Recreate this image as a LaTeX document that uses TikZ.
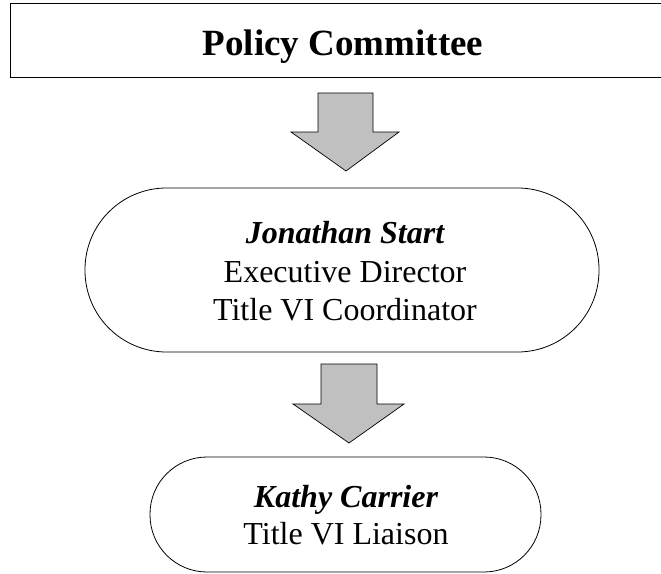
\documentclass[tikz,border=0pt]{standalone}
\usepackage{fontspec}
\setmainfont{Liberation Serif}
\begin{document}
\begin{tikzpicture}[x=1pt,y=-1pt,
  outline/.style={draw=black, line width=0.8pt},
  stad/.style={outline, fill=white, rectangle, inner sep=0pt},
  txt/.style={anchor=base, inner sep=0pt, font=\fontsize{32}{37}\selectfont},
  blockarrow/.style={draw=black, line width=0.7pt, fill=arrowgray, line join=miter}]
\definecolor{arrowgray}{HTML}{C0C0C0}
\useasboundingbox (0,0) rectangle (661,573);
\fill[white] (0,0) rectangle (661,573);
% Policy Committee box (its right side lies beyond the picture)
\begin{scope}
\clip (0,0) rectangle (661,573);
\node[outline, line width=1pt, rectangle, minimum width=690pt, minimum height=74pt, anchor=north west, inner sep=0pt] (pc) at (10,3) {};
\end{scope}
\node[anchor=base, inner sep=0pt, font=\fontsize{37}{40}\selectfont\bfseries] (pctext) at (343,55) {Policy Committee};
% Arrow 1
\draw[blockarrow] (318,93) -- (373,93) -- (373,132) -- (399,132) -- (346,171) -- (291,132) -- (318,132) -- cycle;
% Jonathan Start
\node[stad, rounded corners=81.5pt, minimum width=514pt, minimum height=164pt] (jon) at (342,270) {};
\node[txt, font=\fontsize{32}{37}\selectfont\bfseries\itshape] (jon1) at (345,243) {Jonathan Start};
\node[txt] (jon2) at (345,282) {Executive Director};
\node[txt] (jon3) at (345,320) {Title VI Coordinator};
% Arrow 2
\draw[blockarrow] (321,364) -- (377,364) -- (377,404) -- (404,404) -- (349,443) -- (293,404) -- (321,404) -- cycle;
% Kathy Carrier
\node[stad, rounded corners=57pt, minimum width=391pt, minimum height=115pt] (kat) at (345.5,514.5) {};
\node[txt, font=\fontsize{32}{37}\selectfont\bfseries\itshape] (kat1) at (346,507) {Kathy Carrier};
\node[txt] (kat2) at (346,544) {Title VI Liaison};
\end{tikzpicture}
\end{document}
